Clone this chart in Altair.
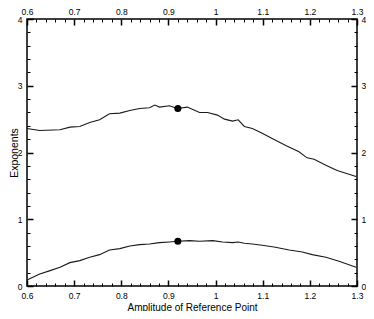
import altair as alt
import pandas as pd

# Upper exponent curve
x_upper = [0.600, 0.627, 0.670, 0.691, 0.712, 0.733, 0.754, 0.775, 0.797, 0.818,
           0.839, 0.860, 0.871, 0.881, 0.902, 0.919, 0.940, 0.966, 0.983, 1.004,
           1.019, 1.036, 1.048, 1.061, 1.078, 1.099, 1.120, 1.150, 1.177, 1.194,
           1.209, 1.234, 1.258, 1.298]
y_upper = [2.36, 2.33, 2.34, 2.38, 2.39, 2.45, 2.49, 2.58, 2.59, 2.63,
           2.66, 2.67, 2.71, 2.68, 2.70, 2.66, 2.68, 2.60, 2.60, 2.56,
           2.50, 2.47, 2.49, 2.39, 2.36, 2.29, 2.21, 2.10, 2.01, 1.92,
           1.90, 1.81, 1.73, 1.64]

# Lower exponent curve
x_lower = [0.600, 0.627, 0.649, 0.670, 0.691, 0.712, 0.733, 0.754, 0.775, 0.797,
           0.818, 0.839, 0.860, 0.881, 0.902, 0.919, 0.945, 0.966, 0.994, 1.015,
           1.036, 1.048, 1.061, 1.078, 1.099, 1.127, 1.156, 1.184, 1.205, 1.234,
           1.262, 1.298]
y_lower = [0.09, 0.18, 0.23, 0.28, 0.35, 0.38, 0.43, 0.47, 0.54, 0.56,
           0.60, 0.62, 0.63, 0.65, 0.66, 0.67, 0.68, 0.67, 0.68, 0.66,
           0.65, 0.66, 0.64, 0.63, 0.61, 0.58, 0.54, 0.51, 0.47, 0.43,
           0.37, 0.28]

# Reference point markers
dot_x = [0.92, 0.92]
dot_y = [2.66, 0.67]

x_major = [0.6, 0.7, 0.8, 0.9, 1.0, 1.1, 1.2, 1.3]
y_major = [0, 1, 2, 3, 4]
x_minor = [round(0.6 + 0.02 * i, 2) for i in range(36) if i % 5]
y_minor = [round(0.2 * i, 1) for i in range(21) if i % 5]

lines_df = pd.DataFrame({
    "x": x_upper + x_lower,
    "y": y_upper + y_lower,
    "series": ["upper"] * len(x_upper) + ["lower"] * len(x_lower),
})
dots_df = pd.DataFrame({"x": dot_x, "y": dot_y})

FONT = "Liberation Sans Narrow, Liberation Sans, Arial"
xs = alt.Scale(domain=[0.6, 1.3], nice=False, zero=False)
ys = alt.Scale(domain=[0, 4], nice=False, zero=False)

def major_axis(orient, values, fmt, title=None, pad=5, **kw):
    args = dict(orient=orient, values=values, format=fmt, domain=False, grid=False,
                tickSize=6, tickWidth=1.5, tickColor="black", offset=-6,
                labelPadding=pad, labelFont=FONT, labelFontSize=8.5, labelColor="black",
                labelFlush=False, labelOverlap=False)
    if title:
        args.update(title=title, titleFont="Liberation Sans, Arial", titleFontWeight="normal",
                    titleColor="black")
    else:
        args.update(title=None)
    args.update(kw)
    return alt.Axis(**args)

def minor_axis(orient, values):
    return alt.Axis(orient=orient, values=values, domain=False, grid=False, labels=False,
                    tickSize=3, tickWidth=1, tickColor="black", offset=-3, title=None)

lines = alt.Chart(lines_df).mark_line(color="#1a1a1a", strokeWidth=1.1).encode(
    x=alt.X("x:Q", scale=xs, axis=major_axis("bottom", x_major, "~g",
            "Amplitude of Reference Point", titleFontSize=10, titleX=165, titleY=27,
            titleBaseline="middle", titleAlign="center")),
    y=alt.Y("y:Q", scale=ys, axis=major_axis("left", y_major, "d",
            "Exponents", titleFontSize=10.5, titleX=-19, titleY=133.5, titleAngle=270,
            titleBaseline="middle", titleAlign="center")),
    detail="series:N",
)

dots = alt.Chart(dots_df).mark_point(filled=True, color="black", size=50, opacity=1).encode(
    x=alt.X("x:Q", scale=xs, axis=major_axis("top", x_major, "~g", pad=3)),
    y=alt.Y("y:Q", scale=ys, axis=major_axis("right", y_major, "d", pad=4)),
)

minor_a = alt.Chart(dots_df).mark_point(opacity=0).encode(
    x=alt.X("x:Q", scale=xs, axis=minor_axis("bottom", x_minor)),
    y=alt.Y("y:Q", scale=ys, axis=minor_axis("left", y_minor)),
)
minor_b = alt.Chart(dots_df).mark_point(opacity=0).encode(
    x=alt.X("x:Q", scale=xs, axis=minor_axis("top", x_minor)),
    y=alt.Y("y:Q", scale=ys, axis=minor_axis("right", y_minor)),
)

chart = alt.layer(lines, dots, minor_a, minor_b).resolve_scale(
    x="independent", y="independent"
).resolve_axis(
    x="independent", y="independent"
).properties(
    width=330, height=267,
    autosize=alt.AutoSizeParams(type="none"),
    padding={"left": 19, "top": 11, "right": 9, "bottom": 25},
    background="white",
).configure_view(stroke="black", strokeWidth=1.5)

chart.save("out.html", embed_options={"renderer": "svg", "actions": False})
